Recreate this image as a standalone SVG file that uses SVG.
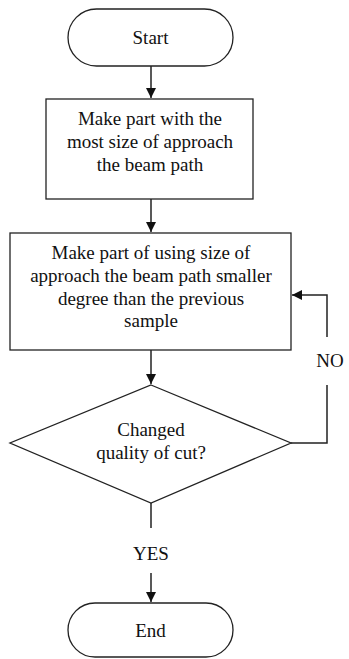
<svg xmlns="http://www.w3.org/2000/svg" width="349" height="659" viewBox="0 0 349 659">
<style>
.s{fill:#fff;stroke:#222;stroke-width:1.3}
.t{font-family:'Liberation Serif','Times New Roman',Times,'DejaVu Serif',serif;font-size:19px;fill:#111;text-anchor:middle}
.c{fill:none;stroke:#222;stroke-width:1.5}
</style>
<defs>
<marker id="a" viewBox="0 0 10 10" refX="10" refY="5" markerWidth="10" markerHeight="10" markerUnits="userSpaceOnUse" orient="auto">
<path d="M0,0 L10,5 L0,10 Z" fill="#111"/>
</marker>
</defs>
<rect width="349" height="659" fill="#fff"/>
<g id="connectors">
<line class="c" x1="151" y1="66" x2="151" y2="98" marker-end="url(#a)"/>
<line class="c" x1="151" y1="199" x2="151" y2="232" marker-end="url(#a)"/>
<line class="c" x1="151" y1="350" x2="151" y2="384" marker-end="url(#a)"/>
<polyline class="c" points="291,443 327,443 327,385"/>
<polyline class="c" points="327,337 327,295 292,295" marker-end="url(#a)"/>
<line class="c" x1="151" y1="503" x2="151" y2="528"/>
<line class="c" x1="151" y1="573" x2="151" y2="602" marker-end="url(#a)"/>
<text class="t" x="330" y="367">NO</text>
<text class="t" x="151" y="560">YES</text>
</g>
<g id="start">
<rect class="s" x="68" y="9" width="165" height="57" rx="28.5"/>
<text class="t" x="150.5" y="44">Start</text>
</g>
<g id="step1">
<rect class="s" x="46" y="99" width="207" height="100"/>
<text class="t" x="150" y="125">Make part with the</text>
<text class="t" x="150" y="148">most size of approach</text>
<text class="t" x="150" y="171">the beam path</text>
</g>
<g id="step2">
<rect class="s" x="10" y="233" width="281" height="117"/>
<text class="t" x="151" y="259">Make part of using size of</text>
<text class="t" x="151" y="282">approach the beam path smaller</text>
<text class="t" x="151" y="305">degree than the previous</text>
<text class="t" x="151" y="327">sample</text>
</g>
<g id="decision">
<polygon class="s" points="151,385 291,443 151,503 10,443"/>
<text class="t" x="151" y="436">Changed</text>
<text class="t" x="151" y="459">quality of cut?</text>
</g>
<g id="end">
<rect class="s" x="68" y="603" width="165" height="54" rx="27"/>
<text class="t" x="150.5" y="637">End</text>
</g>
</svg>
